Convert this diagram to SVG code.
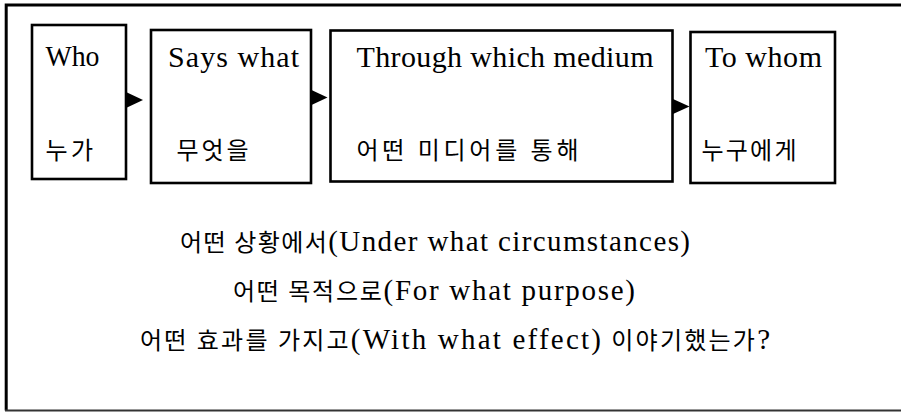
<svg xmlns="http://www.w3.org/2000/svg" width="901" height="412" viewBox="0 0 901 412">
<style>
.box{fill:#fff;stroke:#000;stroke-width:2.6}
.en{font-family:"Liberation Serif","Noto Sans CJK KR",serif;font-size:30px;fill:#000}
.ko{font-family:"Liberation Serif","Noto Sans CJK KR",serif;font-size:24px;fill:#000}
.ln{font-family:"Liberation Serif","Noto Sans CJK KR",serif;font-size:24px;fill:#000}
.lat{font-size:29px}
.arr{fill:#000}
</style>
<rect width="901" height="412" fill="#fff"/>
<g id="frame">
<path d="M6.2 410.5 V5 H901" fill="none" stroke="#000" stroke-width="3"/>
<path d="M5 410.5 H901" fill="none" stroke="#333" stroke-width="2"/>
</g>
<g id="connectors">
<polygon class="arr" points="126,92 143,100 126,108"/>
<polygon class="arr" points="311.5,90 327.5,97.5 311.5,105"/>
<polygon class="arr" points="673,99 689.5,106.5 673,114"/>
</g>
<g id="who">
<rect class="box" x="32" y="25" width="94" height="154"/>
<text class="en" x="45.5" y="65.5" textLength="54" lengthAdjust="spacingAndGlyphs">Who</text>
<text class="ko" x="45.5" y="159" textLength="47.5">누가</text>
</g>
<g id="says-what">
<rect class="box" x="151" y="30" width="160" height="153"/>
<text class="en" x="168" y="66.5" textLength="131">Says what</text>
<text class="ko" x="176.5" y="159" textLength="72">무엇을</text>
</g>
<g id="medium">
<rect class="box" x="330.5" y="30.5" width="342" height="151"/>
<text class="en" x="356.5" y="66.5" textLength="297">Through which medium</text>
<text class="ko" x="356.5" y="159" textLength="222">어떤 미디어를 통해</text>
</g>
<g id="to-whom">
<rect class="box" x="690.5" y="32" width="144.5" height="151"/>
<text class="en" x="705" y="66.5" textLength="117">To whom</text>
<text class="ko" x="701.5" y="159" textLength="95">누구에게</text>
</g>
<g id="questions">
<text class="ln" x="180" y="251" textLength="510">어떤 상황에서<tspan class="lat">(Under what circumstances)</tspan></text>
<text class="ln" x="233" y="300" textLength="402">어떤 목적으로<tspan class="lat">(For what purpose)</tspan></text>
<text class="ln" x="140" y="349" textLength="630">어떤 효과를 가지고<tspan class="lat">(With what effect)</tspan> 이야기했는가<tspan class="lat">?</tspan></text>
</g>
</svg>
